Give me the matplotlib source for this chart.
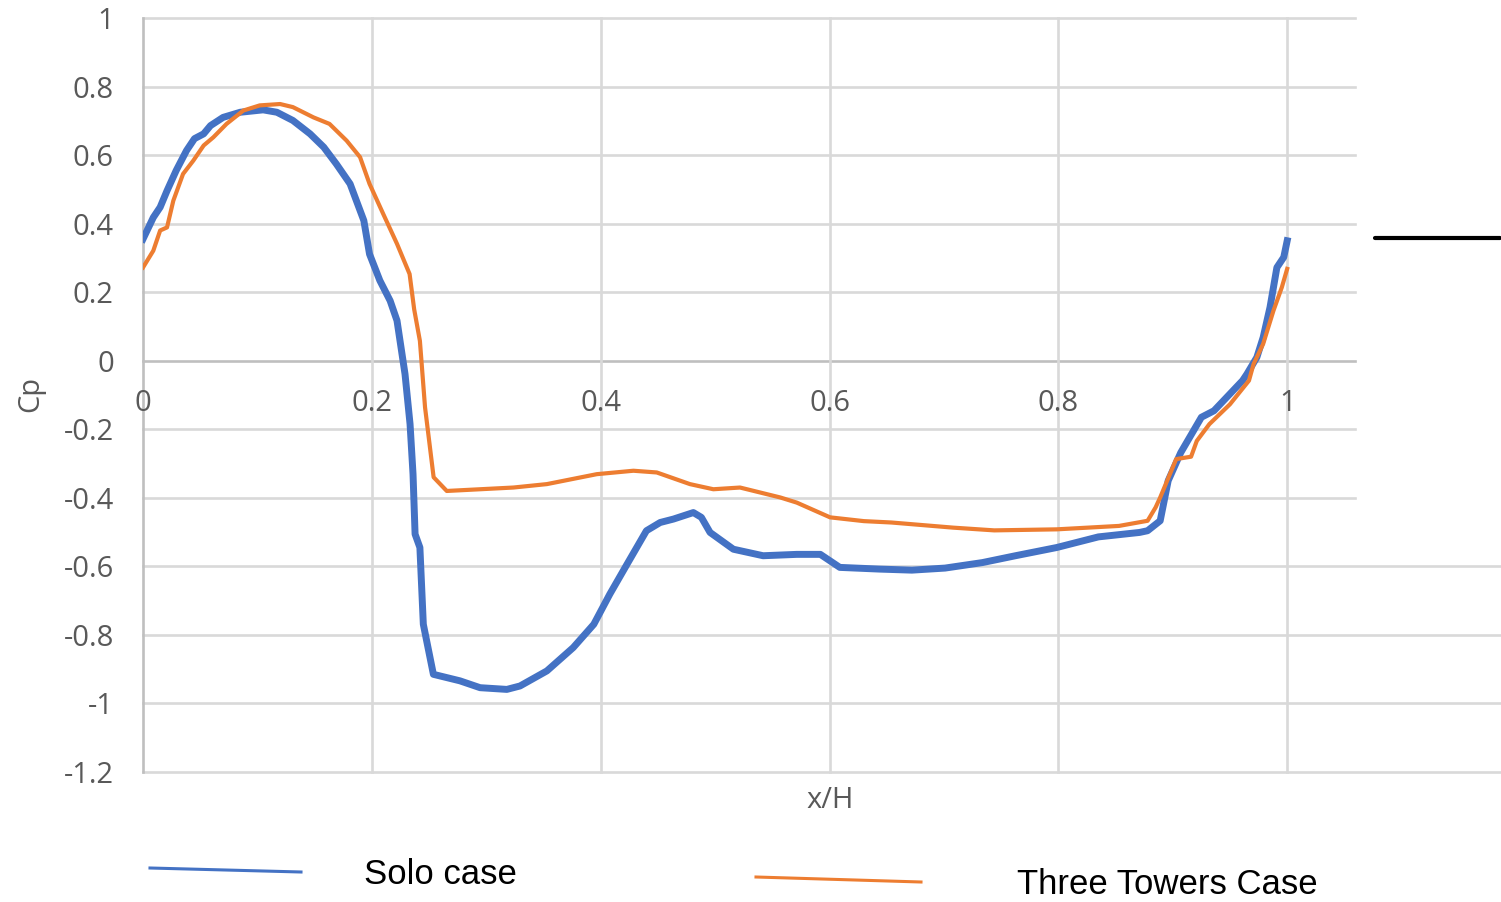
import matplotlib.pyplot as plt
from matplotlib.lines import Line2D

# Cp along x/H for the two cases
solo_x = [0.0, 0.009, 0.015, 0.021, 0.029, 0.038, 0.045, 0.053, 0.059, 0.070, 0.085,
          0.105, 0.117, 0.131, 0.146, 0.158, 0.169, 0.181, 0.193, 0.198, 0.207, 0.216,
          0.222, 0.229, 0.2334, 0.236, 0.2378, 0.242, 0.245, 0.2538, 0.277, 0.2946,
          0.318, 0.3295, 0.353, 0.376, 0.394, 0.408, 0.423, 0.440, 0.452, 0.4636,
          0.481, 0.488, 0.4956, 0.516, 0.542, 0.5714, 0.592, 0.609, 0.644, 0.672,
          0.701, 0.7336, 0.7625, 0.7986, 0.835, 0.871, 0.878, 0.889, 0.896, 0.907,
          0.925, 0.936, 0.961, 0.9648, 0.9735, 0.979, 0.985, 0.991, 0.997, 1.0]
solo_cp = [0.355, 0.418, 0.448, 0.496, 0.555, 0.613, 0.648, 0.662, 0.686, 0.710, 0.725,
           0.732, 0.725, 0.701, 0.662, 0.623, 0.574, 0.516, 0.409, 0.311, 0.234, 0.175,
           0.117, -0.039, -0.185, -0.331, -0.506, -0.545, -0.769, -0.915, -0.934, -0.954,
           -0.959, -0.949, -0.905, -0.837, -0.769, -0.681, -0.594, -0.496, -0.472, -0.462,
           -0.443, -0.457, -0.501, -0.550, -0.569, -0.565, -0.565, -0.603, -0.608, -0.611,
           -0.605, -0.589, -0.569, -0.545, -0.514, -0.501, -0.496, -0.467, -0.350, -0.268,
           -0.165, -0.146, -0.058, -0.039, 0.010, 0.068, 0.156, 0.272, 0.302, 0.350]

three_x = [0.0, 0.009, 0.015, 0.021, 0.0265, 0.035, 0.044, 0.053, 0.0615, 0.073, 0.0877,
           0.102, 0.1198, 0.131, 0.149, 0.163, 0.178, 0.1897, 0.198, 0.210, 0.222, 0.233,
           0.237, 0.242, 0.2465, 0.254, 0.2655, 0.3237, 0.353, 0.3966, 0.4286, 0.449,
           0.478, 0.4985, 0.5218, 0.557, 0.5714, 0.6005, 0.630, 0.654, 0.708, 0.744,
           0.7986, 0.853, 0.878, 0.885, 0.889, 0.903, 0.916, 0.921, 0.932, 0.950,
           0.9666, 0.9706, 0.979, 0.988, 0.9953, 1.0]
three_cp = [0.272, 0.321, 0.380, 0.389, 0.467, 0.545, 0.584, 0.628, 0.652, 0.691, 0.730,
            0.745, 0.749, 0.740, 0.710, 0.691, 0.642, 0.594, 0.516, 0.428, 0.341, 0.253,
            0.150, 0.058, -0.136, -0.340, -0.380, -0.370, -0.360, -0.331, -0.321, -0.326,
            -0.360, -0.375, -0.370, -0.399, -0.414, -0.457, -0.468, -0.472, -0.487, -0.495,
            -0.492, -0.482, -0.467, -0.428, -0.399, -0.287, -0.280, -0.234, -0.185, -0.127,
            -0.058, -0.010, 0.049, 0.146, 0.214, 0.268]

x_ticks = [0, 0.2, 0.4, 0.6, 0.8, 1.0]
x_tick_labels = ['0', '0.2', '0.4', '0.6', '0.8', '1']
y_ticks = [1, 0.8, 0.6, 0.4, 0.2, 0, -0.2, -0.4, -0.6, -0.8, -1, -1.2]
y_tick_labels = ['1', '0.8', '0.6', '0.4', '0.2', '0', '-0.2', '-0.4', '-0.6', '-0.8', '-1', '-1.2']

W, H = 1501, 902
grey_txt = '#595959'
grid_c = '#d9d9d9'
plt.rcParams['font.family'] = ['Open Sans', 'DejaVu Sans']

fig = plt.figure(figsize=(W / 100, H / 100), dpi=100)
ax = fig.add_axes([143 / W, 1 - 772 / H, (1500 - 143) / W, (772 - 18) / H])
ax.set_xlim(0, 1.186)
ax.set_ylim(-1.2, 1)
for s in ax.spines.values():
    s.set_visible(False)

# grid: upper rows stop short, lower rows run to the edge
for yv in y_ticks:
    xr = 1.0594 if yv > -0.5 else 1.186
    c = '#bfbfbf' if yv == 0 else grid_c
    ax.plot([0, xr], [yv, yv], color=c, lw=1.9, clip_on=False, zorder=1)
for xv in x_ticks:
    c = '#bfbfbf' if xv == 0 else grid_c
    ax.plot([xv, xv], [-1.2, 1], color=c, lw=1.9, clip_on=False, zorder=1)

ax.plot(solo_x, solo_cp, color='#4472C4', lw=5, solid_joinstyle='round', zorder=3)
ax.plot(three_x, three_cp, color='#ED7D31', lw=3, solid_joinstyle='round', zorder=3)

ax.plot([1.077, 1.186], [0.359, 0.359], color='black', lw=3, clip_on=False,
        solid_capstyle='round', zorder=3)

ax.set_xticks([])
ax.set_yticks(y_ticks)
ax.set_yticklabels(y_tick_labels)
ax.tick_params(axis='y', length=0, pad=21, labelsize=21, labelcolor=grey_txt)
for xv, lab in zip(x_ticks, x_tick_labels):
    ax.text(xv, -0.125, lab, ha='center', va='center', fontsize=21, color=grey_txt)

fig.text(31 / W, 1 - 394 / H, 'Cp', rotation=90, ha='center', va='center',
         fontsize=21, color=grey_txt)
fig.text(830 / W, 1 - 801 / H, 'x/H', ha='center', va='center', fontsize=21, color=grey_txt)

# legend drawn below the plot
fig.add_artist(Line2D([150 / W, 301 / W], [1 - 868 / H, 1 - 872 / H], color='#4472C4', lw=2.2))
fig.add_artist(Line2D([756 / W, 921 / W], [1 - 877 / H, 1 - 882 / H], color='#ED7D31', lw=2.2))
leg_font = ['Liberation Sans Narrow', 'Liberation Sans', 'DejaVu Sans']
fig.text(364 / W, 1 - 874 / H, 'Solo case', ha='left', va='center', fontsize=25,
         color='black', family=leg_font)
fig.text(1017 / W, 1 - 885 / H, 'Three Towers Case', ha='left', va='center', fontsize=25,
         color='black', family=leg_font)

fig.savefig('out.png', dpi=100)
